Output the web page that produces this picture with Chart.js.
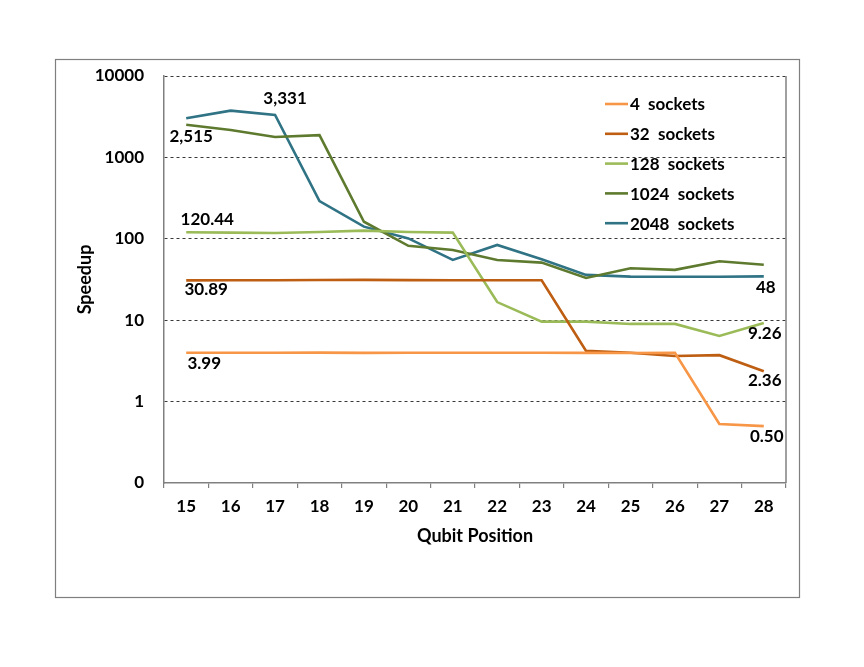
<!DOCTYPE html>
<html>
<head>
<meta charset="utf-8">
<script src="https://cdn.jsdelivr.net/npm/chart.js@4/dist/chart.umd.min.js"></script>
<style>
html,body{margin:0;padding:0;background:#fff;}
#wrap{width:864px;height:667px;position:relative;}
</style>
</head>
<body>
<div id="wrap"><canvas id="c" width="864" height="667"></canvas></div>
<script>
const categories = ["15","16","17","18","19","20","21","22","23","24","25","26","27","28"];
const sockets4    = [3.99, 3.99, 3.99, 4.0, 3.97, 3.98, 3.99, 3.98, 3.99, 3.97, 3.96, 3.98, 0.53, 0.50];
const sockets32   = [30.89, 31, 31, 31.2, 31.3, 31.1, 31, 31, 30.9, 4.2, 3.99, 3.63, 3.72, 2.36];
const sockets128  = [120.44, 119, 118, 121, 126, 121, 119, 16.7, 9.6, 9.6, 9.0, 9.0, 6.4, 9.26];
const sockets1024 = [2515, 2170, 1780, 1880, 162, 82, 73, 55, 51, 33, 43.5, 41.5, 53, 48];
const sockets2048 = [3020, 3750, 3331, 291, 141, 101, 55, 84, 56, 36, 34.3, 34.2, 34.2, 34.5];
const seriesNames = ["4  sockets","32  sockets","128  sockets","1024  sockets","2048  sockets"];
const yTicks = [0.1, 1, 10, 100, 1000, 10000];
const colors = ["#F79646","#BE5E12","#9BBB59","#5E7A2E","#2F7385"];

// value labels: dataset index, point index, text, offset from point
const valueLabels = [
  {ds:4, i:2,  text:"3,331",  dx:10, dy:-16},
  {ds:3, i:0,  text:"2,515",  dx:5,  dy:12},
  {ds:2, i:0,  text:"120.44", dx:21, dy:-13},
  {ds:1, i:0,  text:"30.89",  dx:20, dy:9},
  {ds:0, i:0,  text:"3.99",   dx:18, dy:11},
  {ds:3, i:13, text:"48",     dx:2,  dy:23},
  {ds:2, i:13, text:"9.26",   dx:1,  dy:11},
  {ds:1, i:13, text:"2.36",   dx:1,  dy:9},
  {ds:0, i:13, text:"0.50",   dx:3,  dy:10}
];

const FONT = "Lato, 'Open Sans', 'DejaVu Sans', sans-serif";
const allSeries = [sockets4, sockets32, sockets128, sockets1024, sockets2048];

const decor = {
  id:'decor',
  beforeDraw(chart){
    const ctx = chart.ctx;
    ctx.save();
    ctx.fillStyle = '#fff';
    ctx.fillRect(0,0,chart.width,chart.height);
    ctx.restore();
  },
  afterDraw(chart){
    const ctx = chart.ctx, a = chart.chartArea;
    ctx.save();
    // outer frame
    ctx.strokeStyle = '#7f7f7f';
    ctx.lineWidth = 1.2;
    ctx.strokeRect(55.5, 59.5, 744, 538);
    // right border of plot area
    ctx.beginPath();
    ctx.moveTo(a.right, a.top);
    ctx.lineTo(a.right, a.bottom);
    ctx.strokeStyle = '#808080';
    ctx.lineWidth = 1.5;
    ctx.stroke();
    // axis titles
    ctx.fillStyle = '#000';
    ctx.font = "bold 18px " + FONT;
    ctx.textAlign = 'center';
    ctx.textBaseline = 'middle';
    ctx.fillText("Qubit Position", (a.left + a.right)/2, 536);
    ctx.save();
    ctx.translate(85, (a.top + a.bottom)/2);
    ctx.rotate(-Math.PI/2);
    ctx.fillText("Speedup", 0, 0);
    ctx.restore();
    // legend
    ctx.font = "bold 17px " + FONT;
    const lx = a.right - 181, ly = a.top + 28;
    chart.data.datasets.forEach((d, k) => {
      const y = ly + k*29.8;
      ctx.beginPath();
      ctx.moveTo(lx, y);
      ctx.lineTo(lx + 23, y);
      ctx.strokeStyle = d.borderColor;
      ctx.lineWidth = 2.6;
      ctx.stroke();
      ctx.fillStyle = '#000';
      ctx.textAlign = 'left';
      ctx.fillText(d.label, lx + 25, y + 1);
    });
    // value labels
    ctx.font = "bold 17px " + FONT;
    ctx.textAlign = 'center';
    ctx.textBaseline = 'middle';
    valueLabels.forEach(l => {
      const el = chart.getDatasetMeta(l.ds).data[l.i];
      ctx.fillStyle = '#000';
      ctx.fillText(l.text, el.x + l.dx, el.y + l.dy);
    });
    ctx.restore();
  }
};

new Chart(document.getElementById('c'), {
  type: 'line',
  data: {
    labels: categories,
    datasets: allSeries.map((s, k) => ({
      label: seriesNames[k],
      data: s,
      borderColor: colors[k],
      backgroundColor: colors[k],
      borderWidth: 2.6,
      pointRadius: 0,
      tension: 0,
      fill: false
    }))
  },
  options: {
    responsive: false,
    animation: false,
    devicePixelRatio: 1,
    layout: { padding: { left: 0, top: 76, right: 78, bottom: 0 } },
    plugins: { legend: { display: false }, tooltip: { enabled: false } },
    scales: {
      x: {
        type: 'category',
        offset: true,
        grid: {
          offset: true,
          drawOnChartArea: false,
          drawTicks: true,
          tickLength: 5,
          color: '#808080',
          lineWidth: 1.2
        },
        border: { display: true, color: '#808080', width: 1.5 },
        ticks: {
          color: '#000',
          font: { family: FONT, size: 17, weight: 'bold' },
          padding: 8,
          maxRotation: 0,
          autoSkip: false
        },
        afterFit(scale){ scale.height = 667 - 483; }
      },
      y: {
        type: 'logarithmic',
        min: 0.1,
        max: 10000,
        afterBuildTicks(scale){ scale.ticks = yTicks.map(v => ({value: v})); },
        afterFit(scale){ scale.width = 164; },
        grid: {
          drawTicks: false,
          color: (c) => c.tick && c.tick.value === 0.1 ? 'rgba(0,0,0,0)' : '#222',
          lineWidth: 0.9
        },
        border: { display: true, color: '#808080', width: 1.5, dash: [3, 3] },
        ticks: {
          color: '#000',
          font: { family: FONT, size: 17, weight: 'bold' },
          padding: 20,
          callback: (v) => v === 0.1 ? "0" : String(v)
        }
      }
    }
  },
  plugins: [decor]
});
</script>
</body>
</html>
